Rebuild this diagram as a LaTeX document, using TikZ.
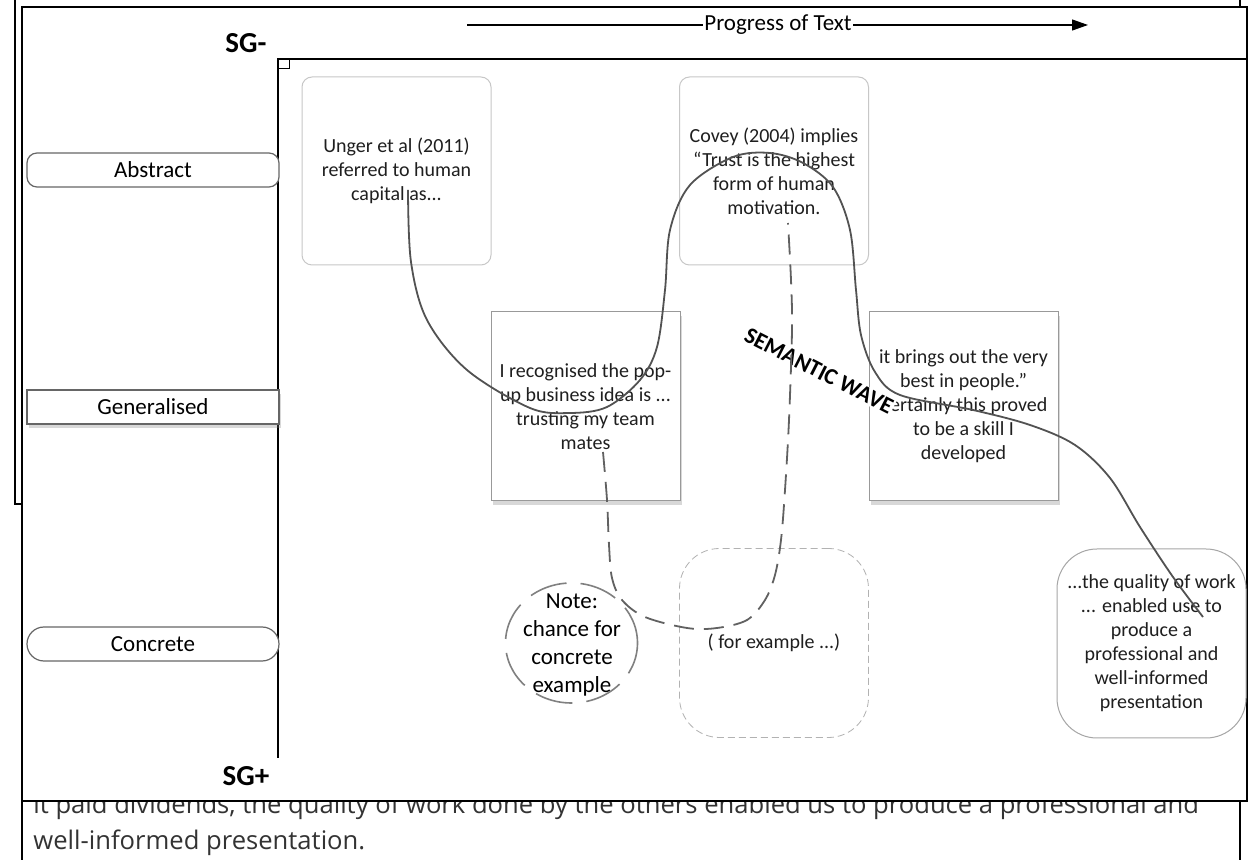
\documentclass[tikz,border=0pt]{standalone}
\usepackage{fontspec}
\setmainfont{Carlito}
\newfontfamily\pagefont{Open Sans}
\usetikzlibrary{arrows.meta,shapes.geometric,shadows}

\tikzset{
  pageline/.style={line width=1pt, black},
  levelbox/.style={draw=black!60, line width=0.6pt, fill=white, minimum width=126pt,
    minimum height=17pt, inner sep=0pt, font=\fontsize{11.5}{14}\selectfont},
  quotebox/.style={draw=black!22, line width=0.5pt, rounded corners=5pt, fill=white,
    minimum width=94.5pt, minimum height=94pt, inner sep=1pt, align=center,
    text=black!88, font=\fontsize{10}{12}\selectfont},
  paperbox/.style={draw=black!40, line width=0.5pt, fill=white, minimum width=94.5pt,
    minimum height=94.5pt, inner sep=1pt, align=center, text=black!88,
    font=\fontsize{10}{12}\selectfont,
    drop shadow={shadow xshift=1pt, shadow yshift=-1.8pt, opacity=0.3}},
  bubblebox/.style={draw=black!35, line width=0.5pt, rounded corners=20pt, fill=white,
    minimum width=94.5pt, minimum height=94.5pt, inner sep=1pt, align=center,
    text=black!88, font=\fontsize{10}{12}\selectfont},
  notering/.style={draw=black!50, line width=0.8pt, dash pattern=on 19pt off 7pt},
  sglabel/.style={font=\fontsize{14.5}{16}\selectfont\bfseries},
  pagetext/.style={anchor=base west, inner sep=0pt, text=black!80,
    font=\pagefont\fontsize{12.8}{15}\selectfont},
  wave/.style={line width=0.9pt, black!68},
  dashwave/.style={line width=0.9pt, black!62, dash pattern=on 10pt off 5pt}
}

\begin{document}
\begin{tikzpicture}[x=0.5pt, y=-0.5pt]
\useasboundingbox (0,0) rectangle (1259,860);

    %----- PAGE BEHIND THE FIGURE -----
    \draw[pageline] (15,-10) rectangle (1240,504);
    \draw[pageline] (22,400) rectangle (1240,880);
    \node[pagetext] (pagetext1) at (33,813) {it paid dividends, the quality of work done by the others enabled us to produce a professional and};
    \node[pagetext] (pagetext2) at (33,849) {well-informed presentation.};

    %----- FRAME -----
    \draw[line width=1.2pt, fill=white] (22,7) rectangle (1247,801);

    %----- AXES -----
    \draw[line width=1pt] (278,758) -- (278,59) -- (1247,59);
    \draw[line width=0.5pt] (278,69) -- (289,69) -- (289,59);
    \node[sglabel] (sgminus) at (246,43) {SG-};
    \node[sglabel] (sgplus) at (246,776) {SG+};

    %----- PROGRESS ARROW -----
    \coordinate (progstart) at (467,25);
    \coordinate (progend) at (1088,25);
    \node[inner sep=0.6pt, font=\fontsize{11.5}{14}\selectfont] (prog) at (778,25) {Progress of Text};
    \draw[line width=0.6pt] (progstart) -- (prog);
    \draw[line width=0.6pt, -{Triangle[length=8pt, width=5.5pt]}] (prog) -- (progend);

    %----- LEVELS -----
    \node[levelbox, rounded corners=5pt] (abstract) at (153,170) {Abstract};
    \node[levelbox, drop shadow={shadow xshift=1pt, shadow yshift=-1.8pt, opacity=0.3}]
        (generalised) at (153,407) {Generalised};
    \node[levelbox, rounded corners=8.5pt] (concrete) at (153,644) {Concrete};

    %----- TEXT BOXES -----
    \node[quotebox] (unger) at (396.5,171) {Unger et al (2011)\\referred to human\\capital as...};
    \node[quotebox] (covey) at (774,171) {Covey (2004) implies\\``Trust is the highest\\form of human\\motivation.};
    \node[paperbox] (recog) at (585.5,406.5) {I recognised the pop-\\up business idea is ...\\trusting my team\\mates};
    \node[paperbox] (brings) at (963.5,406.5) {it brings out the very\\best in people.''\\Certainly this proved\\to be a skill I\\developed};
    \node[inner sep=0pt, align=center, font=\fontsize{11.5}{14}\selectfont] (note) at (572,645) {Note:\\chance for\\concrete\\example};
    \draw[notering] (571.5,643) ellipse [x radius=33pt, y radius=30pt];
    \node[bubblebox, draw=black!30, line width=0.4pt, dash pattern=on 3.5pt off 2pt] (forex) at (774,643) {( for example ...)};
    \node[bubblebox] (quality) at (1151.5,643.5) {...the quality of work\\... enabled use to\\produce a\\professional and\\well-informed\\presentation};

    %----- SEMANTIC WAVE -----
    \node[rotate=-27, fill=white, inner sep=0.5pt, font=\fontsize{11.5}{14}\selectfont\bfseries]
        (wavelabel) at (819,371) {SEMANTIC WAVE};
    \draw[wave] plot[smooth, tension=0.55] coordinates {(408,190) (411,262) (427,320) (467,370)
        (530,408) (570,413) (607,407) (640,380) (657,347) (665,290) (670,230) (690,185) (733,157)
        (770,153) (803,163) (833,187) (850,230) (856,290) (861,335) (875,372) (900,395) (973,410)
        (1030,425) (1075,445) (1110,478) (1140,527) (1173,577) (1203,617)};
    \draw[dashwave] plot[smooth, tension=0.55] coordinates {(603,452) (607,500) (609,545) (612,578)
        (622,600) (645,617) (687,628) (717,628) (747,620) (765,600) (775,575) (781,540) (785,490)
        (789,420) (792,330) (791,280) (788,223)};

\end{tikzpicture}
\end{document}
